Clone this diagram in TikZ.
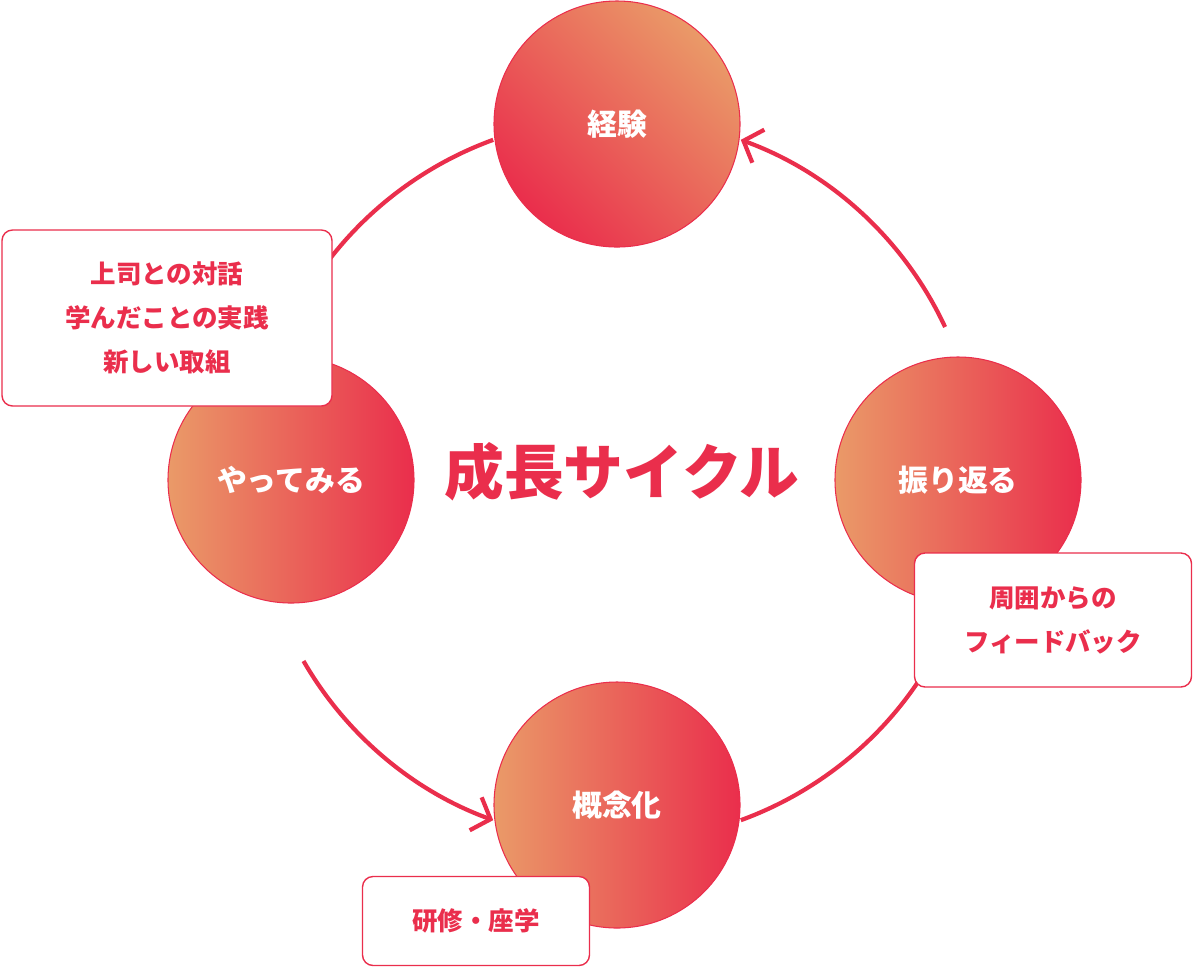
\documentclass[tikz,border=0pt]{standalone}
\usepackage{fontspec}
\setmainfont{Noto Sans CJK JP}
\usetikzlibrary{arrows.meta}
\definecolor{cred}{HTML}{EA2E4C}
\definecolor{corg}{HTML}{EA9A68}
\begin{document}
\begin{tikzpicture}[x=0.02cm,y=-0.02cm,
  ball/.style={circle,minimum size=246*0.02cm,draw=cred,line width=0.6pt,left color=corg,right color=cred,middle color=cred!50!corg,text=white,font=\bfseries\fontsize{17}{20}\selectfont,inner sep=0},
  box/.style={draw=cred,line width=0.8pt,fill=white,rounded corners=6pt,text=cred,font=\bfseries\fontsize{14.5}{25}\selectfont,align=center,inner sep=0},
  arc/.style={draw=cred,line width=2.4pt,-{Straight Barb[length=9pt,width=20pt,line width=2.4pt]}}]
\useasboundingbox (0,0) rectangle (1194,968);
\coordinate (c) at (617,480);
\draw[arc] ([shift={(70:362)}]c) arc[start angle=70,end angle=20,radius=362];
\draw[arc] ([shift={(-25:362)}]c) arc[start angle=-25,end angle=-70,radius=362];
\draw[arc] ([shift={(-110:362)}]c) arc[start angle=-110,end angle=-160,radius=362];
\draw[arc] ([shift={(150:362)}]c) arc[start angle=150,end angle=110,radius=362];
\node[ball,shading angle=-45] (top) at (617,124) {経験};
\node[ball] (right) at (958,480) {振り返る};
\node[ball] (bottom) at (617,805) {概念化};
\node[ball] (left) at (291,480) {やってみる};
\node[text=cred,font=\bfseries\fontsize{34}{40}\selectfont] (title) at (622,472) {成長サイクル};
\node[box,minimum width=330*0.02cm,minimum height=176*0.02cm] (b1) at (167,318) {上司との対話\\学んだことの実践\\新しい取組};
\node[box,minimum width=277*0.02cm,minimum height=134*0.02cm] (b2) at (1053,620) {周囲からの\\フィードバック};
\node[box,minimum width=227*0.02cm,minimum height=89*0.02cm] (b3) at (476,921) {研修・座学};
\end{tikzpicture}
\end{document}
